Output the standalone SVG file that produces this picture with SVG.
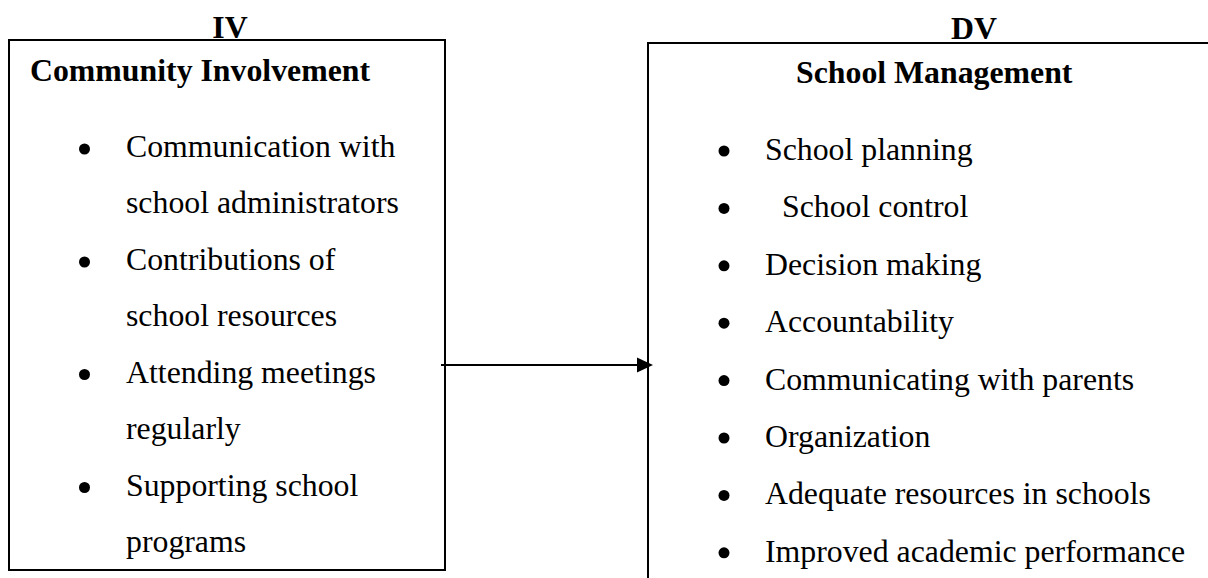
<svg xmlns="http://www.w3.org/2000/svg" width="1208" height="578" viewBox="0 0 1208 578">
  <style>
    .box { fill: #fff; stroke: #000; stroke-width: 2; }
    .hd { font-family: "Liberation Serif", "Times New Roman", serif; font-weight: bold; font-size: 31.8px; fill: #000; }
    .tx { font-family: "Liberation Serif", "Times New Roman", serif; font-size: 31.8px; fill: #000; }
    .dot { fill: #000; }
    .link { stroke: #000; stroke-width: 2; fill: none; }
    .head { fill: #000; }
  </style>
  <rect width="1208" height="578" fill="#fff"/>

  <!-- Independent variable -->
  <g id="iv">
    <text class="hd" x="230" y="38" text-anchor="middle">IV</text>
    <rect class="box" x="9" y="40" width="436" height="530"/>
    <text class="hd" x="30" y="81">Community Involvement</text>
    <circle class="dot" cx="84.5" cy="149" r="5.5"/>
    <text class="tx" x="126" y="157">Communication with</text>
    <text class="tx" x="126" y="213">school administrators</text>
    <circle class="dot" cx="84.5" cy="262" r="5.5"/>
    <text class="tx" x="126" y="270">Contributions of</text>
    <text class="tx" x="126" y="326">school resources</text>
    <circle class="dot" cx="84.5" cy="374.5" r="5.5"/>
    <text class="tx" x="126" y="382.5">Attending meetings</text>
    <text class="tx" x="126" y="439">regularly</text>
    <circle class="dot" cx="84.5" cy="487.5" r="5.5"/>
    <text class="tx" x="126" y="495.5">Supporting school</text>
    <text class="tx" x="126" y="552">programs</text>
  </g>

  <!-- Dependent variable -->
  <g id="dv">
    <text class="hd" x="974" y="39" text-anchor="middle">DV</text>
    <path class="box" d="M1210,43 H648 V580"/>
    <text class="hd" x="796" y="83">School Management</text>
    <circle class="dot" cx="724" cy="151" r="5.5"/>
    <text class="tx" x="765" y="160">School planning</text>
    <circle class="dot" cx="724" cy="208.4" r="5.5"/>
    <text class="tx" x="782" y="217.4">School control</text>
    <circle class="dot" cx="724" cy="265.8" r="5.5"/>
    <text class="tx" x="765" y="274.8">Decision making</text>
    <circle class="dot" cx="724" cy="323.2" r="5.5"/>
    <text class="tx" x="765" y="332.2">Accountability</text>
    <circle class="dot" cx="724" cy="380.6" r="5.5"/>
    <text class="tx" x="765" y="389.6">Communicating with parents</text>
    <circle class="dot" cx="724" cy="438" r="5.5"/>
    <text class="tx" x="765" y="447">Organization</text>
    <circle class="dot" cx="724" cy="495.4" r="5.5"/>
    <text class="tx" x="765" y="504.4">Adequate resources in schools</text>
    <circle class="dot" cx="724" cy="552.8" r="5.5"/>
    <text class="tx" x="765" y="561.8">Improved academic performance</text>
  </g>

  <!-- Connectors -->
  <g id="connectors">
    <line class="link" x1="441" y1="365" x2="638" y2="365"/>
    <polygon class="head" points="637,357.5 653,365 637,372.5"/>
  </g>
</svg>
